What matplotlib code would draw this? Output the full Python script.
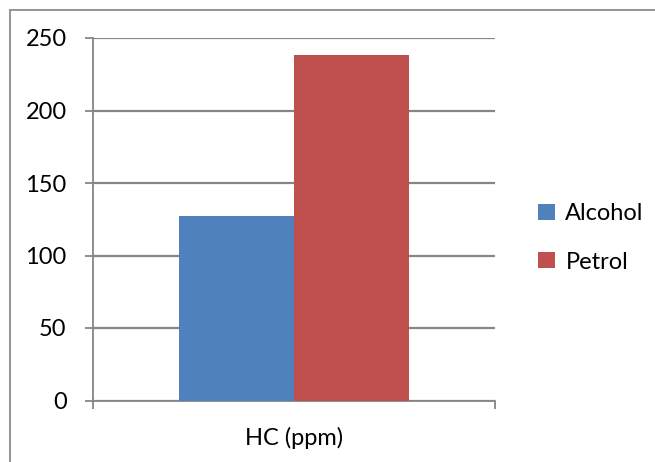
import matplotlib
matplotlib.use("Agg")
import matplotlib.pyplot as plt
from matplotlib.patches import Patch
from matplotlib.lines import Line2D

categories = ["HC (ppm)"]
series_names = ["Alcohol", "Petrol"]
alcohol = [127]
petrol = [238]
yticks = [0, 50, 100, 150, 200, 250]

colors = ["#4F81BD", "#C0504D"]
grid_color = "#868686"

plt.rcParams['font.family'] = ['Lato', 'DejaVu Sans']
FS = 17

fig = plt.figure(figsize=(6.55, 4.62), dpi=100)
ax = fig.add_axes([93/655, (462-400.5)/462, (495-93)/655, (400.5-38)/462])

w = 0.2857
x = list(range(len(categories)))
ax.bar([xi - w/2 for xi in x], alcohol, width=w, color=colors[0], label=series_names[0], zorder=3)
ax.bar([xi + w/2 for xi in x], petrol, width=w, color=colors[1], label=series_names[1], zorder=3)

ax.set_xlim(-0.5, 0.5)
ax.set_ylim(0, 250)
ax.set_yticks(yticks)
ax.set_yticklabels([str(v) for v in yticks])
ax.yaxis.grid(True, color=grid_color, linewidth=1.6, zorder=0)
ax.set_axisbelow(True)

ax.set_xticks(x)
ax.set_xticklabels(categories)
ax.set_xticks([-0.5, 0.5], minor=True)
ax.tick_params(axis='x', which='major', length=0, pad=19, labelsize=FS, colors='black')
ax.tick_params(axis='x', which='minor', length=6, width=1.3, color=grid_color, direction='out')
ax.tick_params(axis='y', length=6, width=1.3, color=grid_color, pad=13, labelsize=FS, labelcolor='black')

for s in ['top', 'right']:
    ax.spines[s].set_visible(False)
for s in ['left', 'bottom']:
    ax.spines[s].set_color(grid_color)
    ax.spines[s].set_linewidth(1.3)

handles = [Patch(facecolor=c, edgecolor='none') for c in colors]
leg = fig.legend(handles, series_names, loc='center left', bbox_to_anchor=(517/655, 1 - 238/462),
                 frameon=False, fontsize=FS, handlelength=0.7, handleheight=0.65,
                 handletextpad=0.45, labelspacing=1.15)

# chart border (top and left visible)
fig.add_artist(Line2D([10/655, 1], [1 - 10/462, 1 - 10/462], color="#8c8c8c", linewidth=1.3, transform=fig.transFigure))
fig.add_artist(Line2D([10/655, 10/655], [0, 1 - 10/462], color="#8c8c8c", linewidth=1.3, transform=fig.transFigure))

fig.savefig("out.png", dpi=100)
